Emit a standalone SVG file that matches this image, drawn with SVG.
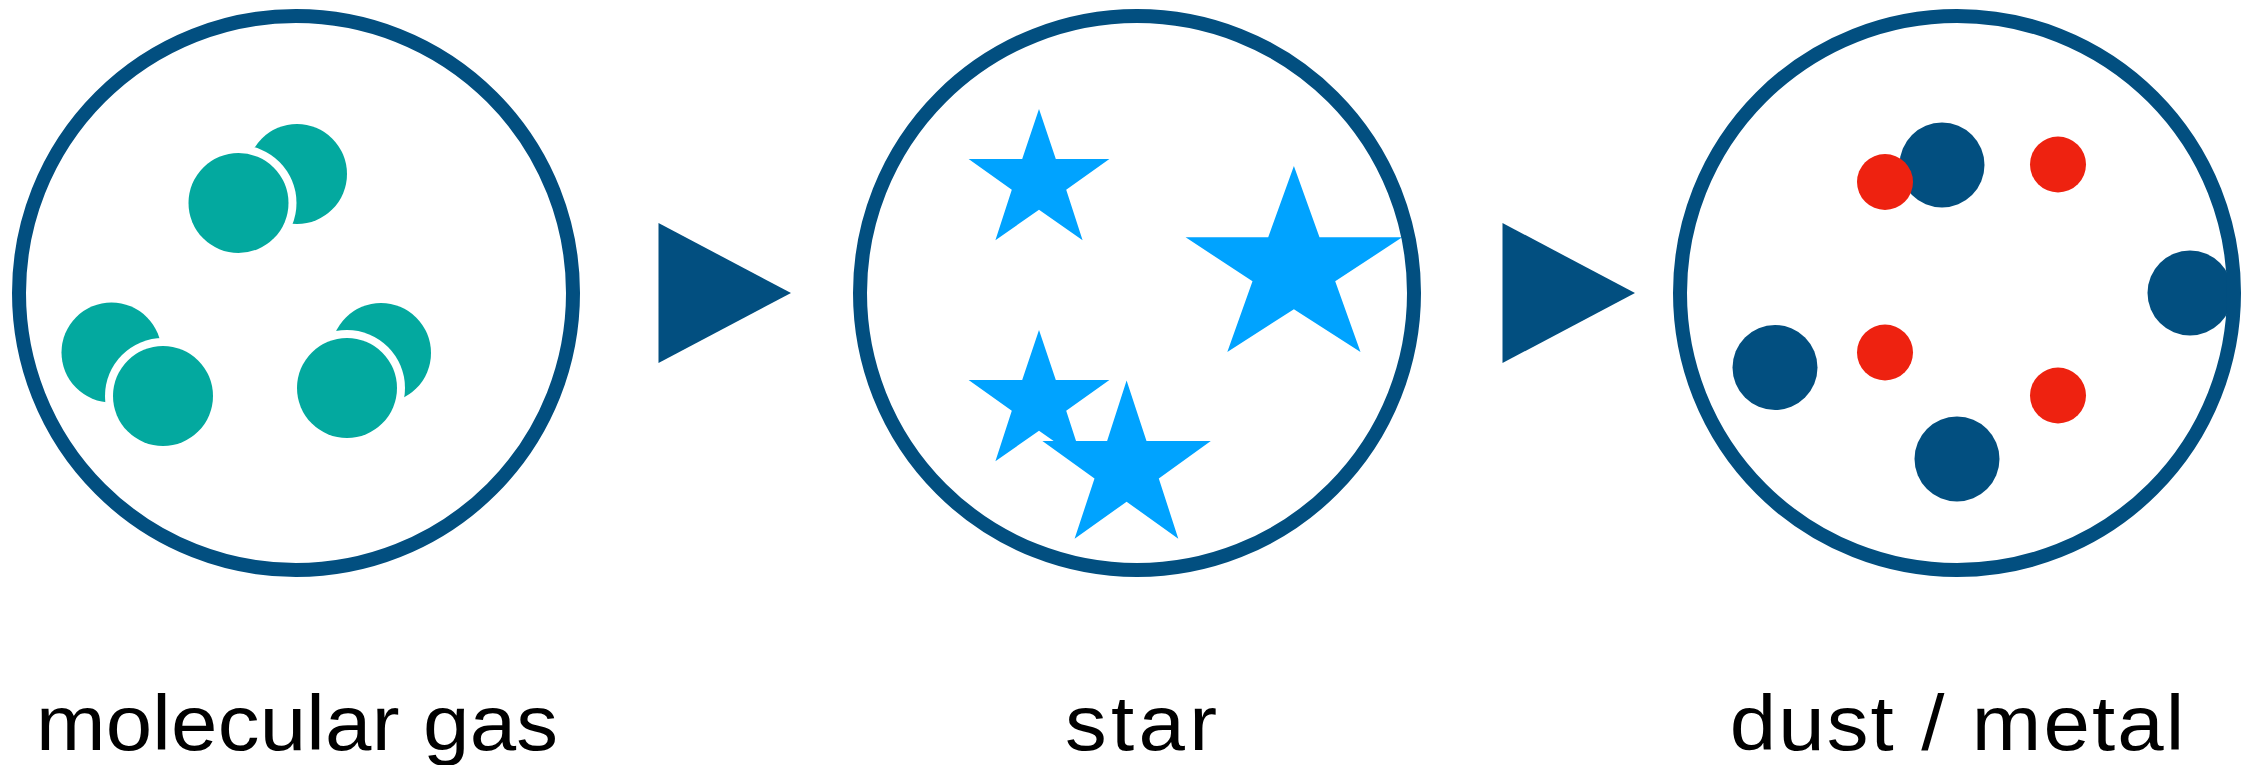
<svg xmlns="http://www.w3.org/2000/svg" width="2244" height="765" viewBox="0 0 2244 765">
  <style>
    .ring { fill: none; stroke: #024F80; stroke-width: 14; }
    .teal { fill: #03A99F; }
    .halo { fill: #FFFFFF; }
    .star { fill: #00A3FF; }
    .navy { fill: #024F80; }
    .red { fill: #EE2210; }
    .arrow { fill: #024F80; }
    .label { font-family: "Liberation Sans", Arial, sans-serif; font-size: 78px; fill: #000000; text-anchor: middle; }
  </style>
  <defs>
    <polygon id="smallStar" points="1039,109 1055.8,159 1109.4,159 1066.2,189.8 1082.6,240.3 1039,209.7 995.4,240.3 1011.8,189.8 968.6,159 1022.2,159"/>
  </defs>
  <rect width="2244" height="765" fill="#FFFFFF"/>

  <g id="molecular-gas">
    <circle class="teal" cx="297" cy="174" r="50"/>
    <circle class="halo" cx="238.5" cy="203" r="58"/>
    <circle class="teal" cx="238.5" cy="203" r="50"/>
    <circle class="teal" cx="111.5" cy="352.5" r="50"/>
    <circle class="halo" cx="163" cy="396" r="58"/>
    <circle class="teal" cx="163" cy="396" r="50"/>
    <circle class="teal" cx="381" cy="353" r="50"/>
    <circle class="halo" cx="347" cy="388" r="58"/>
    <circle class="teal" cx="347" cy="388" r="50"/>
    <circle class="ring" cx="296" cy="293" r="277"/>
    <text class="label" transform="scale(1.07,1)" x="277.6" y="750" textLength="488" lengthAdjust="spacing">molecular gas</text>
  </g>

  <g id="star">
    <use href="#smallStar" class="star"/>
    <use href="#smallStar" class="star" transform="translate(0,221)"/>
    <polygon class="star" points="1126.6,380.4 1146.5,440.9 1210.8,440.9 1158.8,478.4 1178.3,538.8 1126.6,501.7 1074.6,538.8 1094.5,478.4 1042.4,440.9 1107.1,440.9"/>
    <polygon class="star" points="1293.9,166.1 1319.5,237.3 1402.2,237.3 1335.2,281.3 1360.5,352.1 1293.9,309.2 1227.3,352.1 1252.5,281.3 1185.6,237.3 1268.2,237.3"/>
    <circle class="ring" cx="1137" cy="293" r="277"/>
    <text class="label" transform="scale(1.07,1)" x="1066.4" y="750" textLength="142" lengthAdjust="spacing">star</text>
  </g>

  <g id="dust-metal">
    <circle class="navy" cx="1942" cy="165" r="42.5"/>
    <circle class="navy" cx="2190" cy="293" r="42.5"/>
    <circle class="navy" cx="1775" cy="367.5" r="42.5"/>
    <circle class="navy" cx="1957" cy="459" r="42.5"/>
    <circle class="red" cx="1885" cy="182" r="28"/>
    <circle class="red" cx="2058" cy="164.5" r="28"/>
    <circle class="red" cx="1885" cy="352.5" r="28"/>
    <circle class="red" cx="2058" cy="395.5" r="28"/>
    <circle class="ring" cx="1957" cy="293" r="277"/>
    <text class="label" transform="scale(1.07,1)" x="1829" y="750" textLength="425" lengthAdjust="spacing">dust / metal</text>
  </g>

  <g id="connectors">
    <polygon class="arrow" points="658.5,223 658.5,363 791,293"/>
    <polygon class="arrow" points="1502.5,223 1502.5,363 1635,293"/>
  </g>
</svg>
